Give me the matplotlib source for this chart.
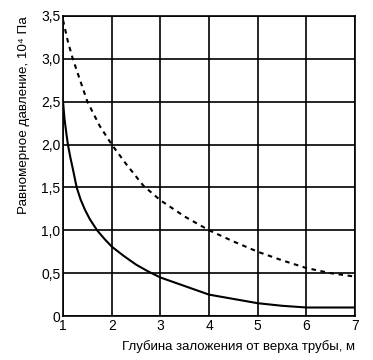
import matplotlib
matplotlib.use("Agg")
import matplotlib.pyplot as plt
from matplotlib.ticker import FuncFormatter

plt.rcParams["font.family"] = ["Liberation Sans", "DejaVu Sans"]

# Solid curve
solid_x = [1.0, 1.03, 1.07, 1.1, 1.15, 1.2, 1.28, 1.36, 1.45, 1.55, 1.7, 1.85, 2.0,
           2.25, 2.5, 2.75, 3.0, 3.25, 3.5, 3.75, 4.0, 4.5, 5.0, 5.5, 6.0, 6.5, 7.0]
solid_y = [2.5, 2.3, 2.12, 2.0, 1.85, 1.72, 1.5, 1.36, 1.24, 1.13, 1.0, 0.9, 0.81,
           0.7, 0.6, 0.52, 0.45, 0.4, 0.35, 0.3, 0.25, 0.2, 0.15, 0.12, 0.1, 0.1, 0.1]

# Dashed curve
dash_x = [1.0, 1.1, 1.2, 1.35, 1.5, 1.75, 2.0, 2.3, 2.65, 3.0, 3.5, 4.0, 4.5, 5.0,
          5.5, 6.0, 6.5, 7.0]
dash_y = [3.45, 3.2, 3.0, 2.75, 2.5, 2.22, 2.0, 1.77, 1.52, 1.35, 1.16, 1.0, 0.87, 0.75,
          0.65, 0.56, 0.5, 0.46]

fig = plt.figure(figsize=(3.73, 3.6), dpi=100)
ax = fig.add_axes([0.169, 0.122, 0.783, 0.834])

ax.plot(solid_x, solid_y, color="black", lw=1.5)
ax.plot(dash_x, dash_y, color="black", lw=1.5, linestyle=(0, (2.2, 2.2)))

ax.set_xlim(1, 7)
ax.set_ylim(0, 3.5)
ax.set_xticks(range(1, 8))
ax.set_yticks([0, 0.5, 1.0, 1.5, 2.0, 2.5, 3.0, 3.5])


def fmt(v, pos):
    if v == 0:
        return "0"
    return f"{v:.1f}".replace(".", ",")


ax.yaxis.set_major_formatter(FuncFormatter(fmt))
ax.grid(True, color="black", lw=1.2)
for s in ax.spines.values():
    s.set_linewidth(1.2)
ax.tick_params(length=0, labelsize=10, pad=2)

ax.set_xlabel("Глубина заложения от верха трубы, м", fontsize=9.5, loc="right", labelpad=5)
ax.set_ylabel("Равномерное давление, 10⁴ Па", fontsize=9.7, loc="top", labelpad=8)

fig.savefig("out.png", dpi=100)
